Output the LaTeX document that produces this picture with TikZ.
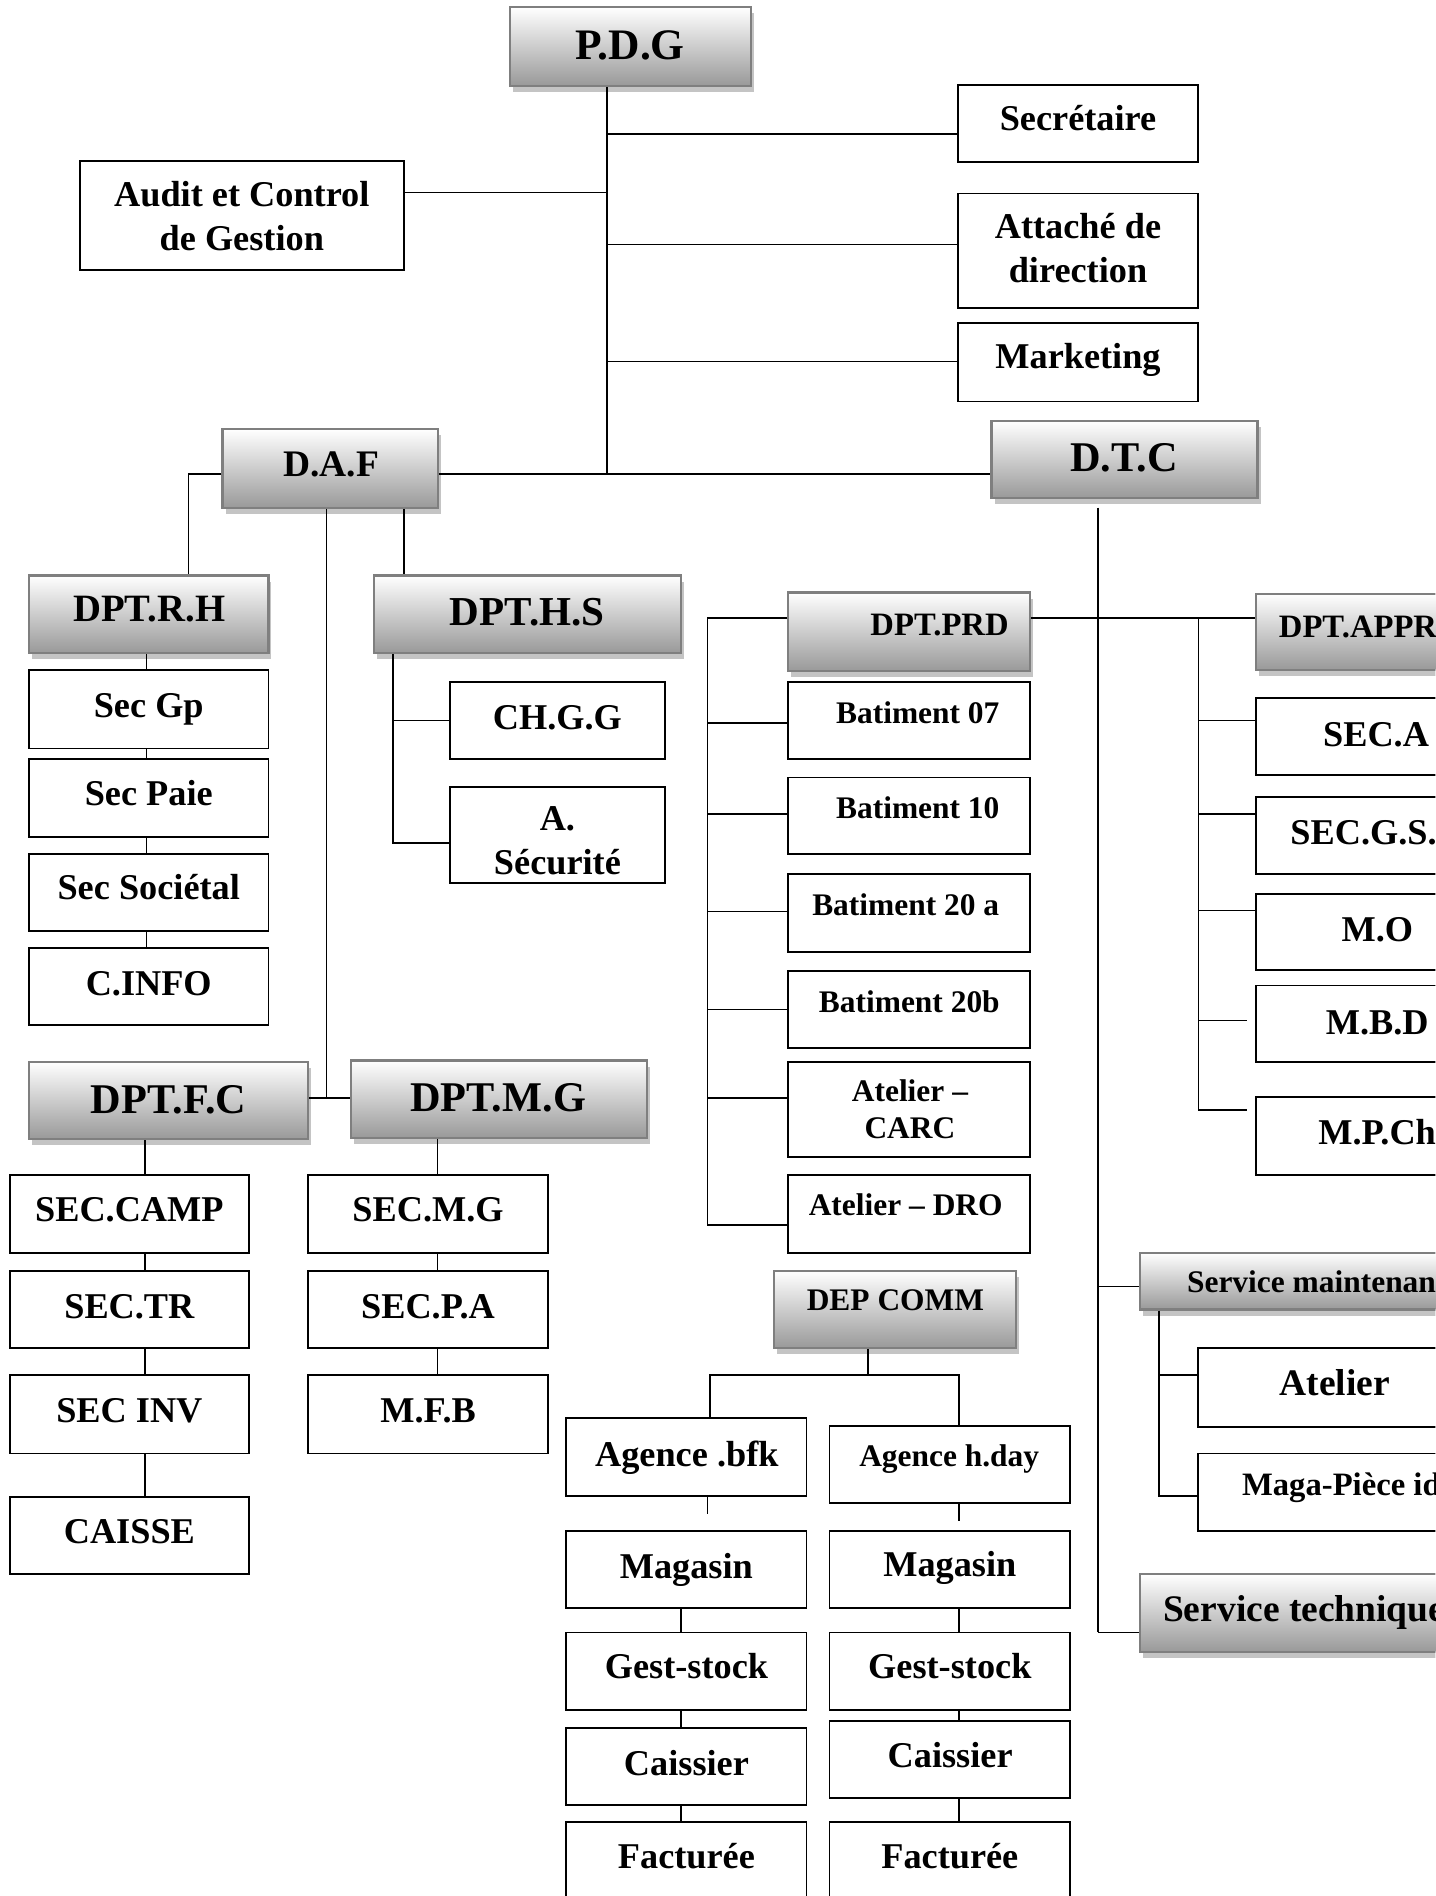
\documentclass[tikz,border=0pt]{standalone}
\usepackage{fontspec}
\setmainfont{Liberation Serif}
\usetikzlibrary{fit,shadows}
\definecolor{gbot}{HTML}{999999}
\definecolor{gedge}{HTML}{7F7F7F}
\definecolor{gshade}{HTML}{C4C4C4}
% box by its corners: style, name, x1, y1, x2, y2
\newcommand\bx[6]{\node[#1, fit={(#3,#4) (#5,#6)}] (#2) {};}
% label: style, name, x, y, text
\newcommand\tx[5]{\node[lab,#1] (#2) at (#3,#4) {#5};}
\begin{document}
\begin{tikzpicture}[x=1pt,y=-1pt,
  box/.style={rectangle, draw=black, line width=1.5pt, fill=white, inner sep=0pt},
  gbox/.style={rectangle, draw=gedge, line width=1.8pt, top color=white, bottom color=gbot, inner sep=0pt,
    drop shadow={shadow xshift=2.5pt, shadow yshift=-5pt, fill=gshade, opacity=1}},
  link/.style={draw=black, line width=1.2pt},
  lab/.style={inner sep=0pt, anchor=base, align=center, text=black},
  two/.style={anchor=center},
  f26/.style={font=\fontsize{26}{30.5}\selectfont\bfseries},
  f27/.style={font=\fontsize{27}{31}\selectfont\bfseries},
  f30/.style={font=\fontsize{30}{36}\selectfont\bfseries},
  f31/.style={font=\fontsize{31}{36}\selectfont\bfseries},
  f32/.style={font=\fontsize{32}{36}\selectfont\bfseries},
  f34/.style={font=\fontsize{34}{38}\selectfont\bfseries},
  f35/.style={font=\fontsize{35}{40}\selectfont\bfseries},
  f36/.style={font=\fontsize{36}{40}\selectfont\bfseries}]
\useasboundingbox (0,0) rectangle (1187,1568);
\clip (0,0) rectangle (1187,1568);

% ---------- direction ----------
\bx{gbox}{pdg}{422}{6}{621}{71}
\bx{box}{sec}{792}{70}{991}{134}
\bx{box}{audit}{66}{133}{334}{223}
\bx{box}{att}{792}{160}{991}{255}
\bx{box}{mkt}{792}{267}{991}{332}
\bx{gbox}{daf}{184}{355}{362}{420}
\bx{gbox}{dtc}{820}{348}{1040}{412}

% ---------- D.A.F branch ----------
\bx{gbox}{rh}{24}{476}{222}{540}
\bx{gbox}{hs}{309}{476}{563}{540}
\bx{box}{secgp}{24}{554}{222}{619}
\bx{box}{secpaie}{24}{628}{222}{692}
\bx{box}{secsoc}{24}{706}{222}{770}
\bx{box}{cinfo}{24}{784}{222}{848}
\bx{box}{chgg}{372}{564}{550}{628}
\bx{box}{asec}{372}{651}{550}{730}
\bx{gbox}{dfc}{24}{878}{255}{942}
\bx{gbox}{dmg}{290}{877}{535}{941}
\bx{box}{secamp}{8}{972}{206}{1036}
\bx{box}{sectr}{8}{1051}{206}{1115}
\bx{box}{secinv}{8}{1137}{206}{1202}
\bx{box}{caisse}{8}{1238}{206}{1302}
\bx{box}{secmg}{255}{972}{453}{1036}
\bx{box}{secpa}{255}{1051}{453}{1115}
\bx{box}{mfb}{255}{1137}{453}{1202}

% ---------- production ----------
\bx{gbox}{dprd}{652}{490}{852}{555}
\bx{box}{bat07}{652}{564}{852}{628}
\bx{box}{bat10}{652}{643}{852}{706}
\bx{box}{bat20a}{652}{723}{852}{787}
\bx{box}{bat20b}{652}{803}{852}{867}
\bx{box}{carc}{652}{878}{852}{957}
\bx{box}{dro}{652}{972}{852}{1036}

% ---------- commercial ----------
\bx{gbox}{depcomm}{640}{1051}{840}{1115}
\bx{box}{agbfk}{468}{1173}{667}{1237}
\bx{box}{aghday}{686}{1179}{885}{1243}
\bx{box}{mag1}{468}{1266}{667}{1330}
\bx{box}{mag2}{686}{1266}{885}{1330}
\bx{box}{gest1}{468}{1350}{667}{1414}
\bx{box}{gest2}{686}{1350}{885}{1414}
\bx{box}{cais1}{468}{1429}{667}{1493}
\bx{box}{cais2}{686}{1423}{885}{1487}
\bx{box}{fact1}{468}{1507}{667}{1590}
\bx{box}{fact2}{686}{1507}{885}{1590}

% ---------- supply and services ----------
\bx{gbox}{dappr}{1039}{491}{1250}{554}
\bx{box}{seca}{1039}{577}{1237}{641}
\bx{box}{secgs}{1039}{659}{1237}{723}
\bx{box}{mo}{1039}{739}{1237}{802}
\bx{box}{mbd}{1039}{815}{1237}{878}
\bx{box}{mpch}{1039}{907}{1237}{972}
\bx{gbox}{svm}{943}{1036}{1300}{1083}
\bx{box}{atel}{991}{1115}{1218}{1180}
\bx{box}{maga}{991}{1202}{1218}{1266}
\bx{gbox}{svt}{943}{1302}{1300}{1366}

% ---------- labels ----------
\tx{f36}{pdg-t}{521}{49}{P.D.G}
\tx{f30}{sec-t}{891.5}{108}{Secrétaire}
\tx{f30,two}{audit-t}{200}{178.6}{Audit et Control\\de Gestion}
\tx{f30,two}{att-t}{891.5}{205}{Attaché de\\direction}
\tx{f30}{mkt-t}{891.5}{305}{Marketing}
\tx{f31}{daf-t}{274}{394}{D.A.F}
\tx{f35}{dtc-t}{929.5}{390}{D.T.C}
\tx{f32}{rh-t}{123.5}{514}{DPT.R.H}
\tx{f34}{hs-t}{436}{517}{DPT.H.S}
\tx{f30}{secgp-t}{123}{593}{Sec Gp}
\tx{f30}{secpaie-t}{123}{666}{Sec Paie}
\tx{f30}{secsoc-t}{123}{744}{Sec Sociétal}
\tx{f30}{cinfo-t}{123}{823}{C.INFO}
\tx{f30}{chgg-t}{461}{603}{CH.G.G}
\tx{f30,two}{asec-t}{461}{695.5}{A.\\Sécurité}
\tx{f35}{dfc-t}{139.4}{921}{DPT.F.C}
\tx{f35}{dmg-t}{412}{919}{DPT.M.G}
\tx{f30}{secamp-t}{107}{1010}{SEC.CAMP}
\tx{f30}{sectr-t}{107}{1090}{SEC.TR}
\tx{f30}{secinv-t}{107}{1176}{SEC INV}
\tx{f30}{caisse-t}{107}{1276.5}{CAISSE}
\tx{f30}{secmg-t}{354}{1010}{SEC.M.G}
\tx{f30}{secpa-t}{354}{1090}{SEC.P.A}
\tx{f30}{mfb-t}{354}{1176}{M.F.B}
\tx{f27}{dprd-t}{777}{525.5}{DPT.PRD}
\tx{f26}{bat07-t}{759}{598}{Batiment 07}
\tx{f26}{bat10-t}{759}{677}{Batiment 10}
\tx{f26}{bat20a-t}{749}{757.5}{Batiment 20 a}
\tx{f26}{bat20b-t}{752}{837.5}{Batiment 20b}
\tx{f26,two}{carc-t}{752.5}{917}{Atelier –\\CARC}
\tx{f26}{dro-t}{749}{1005}{Atelier – DRO}
\tx{f26}{depcomm-t}{740.5}{1084}{DEP COMM}
\tx{f30}{agbfk-t}{568}{1213}{Agence .bfk}
\tx{f26}{aghday-t}{785}{1213}{Agence h.day}
\tx{f30}{mag1-t}{567.6}{1305}{Magasin}
\tx{f30}{mag2-t}{785.5}{1304}{Magasin}
\tx{f30}{gest1-t}{567.7}{1388}{Gest-stock}
\tx{f30}{gest2-t}{785.5}{1388}{Gest-stock}
\tx{f30}{cais1-t}{567.7}{1468}{Caissier}
\tx{f30}{cais2-t}{785.8}{1461.5}{Caissier}
\tx{f30}{fact1-t}{567.7}{1545}{Facturée}
\tx{f30}{fact2-t}{785.5}{1545}{Facturée}
\tx{f27,anchor=base west}{dappr-t}{1057.5}{527}{DPT.APPRO}
\tx{f30}{seca-t}{1138}{617}{SEC.A}
\tx{f30,anchor=base west}{secgs-t}{1067}{698}{SEC.G.S.}
\tx{f30}{mo-t}{1139}{779}{M.O}
\tx{f30}{mbd-t}{1139}{855.7}{M.B.D}
\tx{f30,anchor=base west}{mpch-t}{1090}{946.6}{M.P.Ch}
\tx{f26,anchor=base west}{svm-t}{981.5}{1069}{Service maintenance}
\tx{f31}{atel-t}{1104}{1154}{Atelier}
\tx{f27,anchor=base west}{maga-t}{1027}{1237}{Maga-Pièce id}
\tx{f31,anchor=base west}{svt-t}{961.7}{1341}{Service technique}

% ---------- connectors: direction ----------
\coordinate (jsec) at (502,111);
\coordinate (jaud) at (502,159);
\coordinate (jatt) at (502,202);
\coordinate (jmkt) at (502,299);
\coordinate (jmain) at (502,392);
\draw[link] (pdg.south -| jmain) -- (jmain);
\draw[link] (jsec) -- (jsec -| sec.west);
\draw[link] (jaud) -- (jaud -| audit.east);
\draw[link] (jatt) -- (jatt -| att.west);
\draw[link] (jmkt) -- (jmkt -| mkt.west);
\draw[link] (jmain -| daf.east) -- (jmain -| dtc.west);

% ---------- connectors: D.A.F ----------
\coordinate (rhc) at (156,392);
\draw[link] (jmain -| daf.west) -- (rhc) -- (rhc |- rh.north);
\coordinate (hsx) at (334,450);
\draw[link] (daf.south -| hsx) -- (hs.north -| hsx);
\coordinate (fcj) at (270,908);
\draw[link] (daf.south -| fcj) -- (fcj);
\draw[link] (fcj -| dfc.east) -- (fcj -| dmg.west);
\coordinate (rhx) at (121,600);
\foreach \a/\b in {rh/secgp,secgp/secpaie,secpaie/secsoc,secsoc/cinfo}
  \draw[link] (\a.south -| rhx) -- (\b.north -| rhx);
\coordinate (hsv) at (325,697);
\coordinate (hsc) at (325,596);
\draw[link] (hs.south -| hsv) -- (hsv) -- (hsv -| asec.west);
\draw[link] (hsc) -- (hsc -| chgg.west);
\coordinate (fcx) at (120,1000);
\foreach \a/\b in {dfc/secamp,secamp/sectr,sectr/secinv,secinv/caisse}
  \draw[link] (\a.south -| fcx) -- (\b.north -| fcx);
\coordinate (mgx) at (362,1000);
\foreach \a/\b in {dmg/secmg,secmg/secpa,secpa/mfb}
  \draw[link] (\a.south -| mgx) -- (\b.north -| mgx);

% ---------- connectors: D.T.C ----------
\coordinate (dtcx) at (908,1350);
\draw[link, shorten <=7pt] (dtc.south -| dtcx) -- (dtcx);
\draw[link] (dtcx) -- (dtcx -| svt.west);
\coordinate (prdj) at (908,511);
\draw[link] (prdj -| dprd.east) -- (prdj -| dappr.west);
\coordinate (svmj) at (908,1064);
\draw[link] (svmj) -- (svmj -| svm.west);

% production bracket
\coordinate (pb) at (585,511);
\coordinate (pbe) at (585,1013);
\draw[link] (pb -| dprd.west) -- (pb) -- (pbe) -- (pbe -| dro.west);
\foreach \n/\y in {bat07/598,bat10/673,bat20a/754,bat20b/835,carc/908}{
  \coordinate (s\n) at (585,\y);
  \draw[link] (s\n) -- (s\n -| \n.west);
}

% supply bracket
\coordinate (ab) at (991,511);
\coordinate (abe) at (991,918);
\draw[link] (ab) -- (abe);
\draw[link, shorten >=7pt] (abe) -- (abe -| mpch.west);
\foreach \n/\y in {seca/596,secgs/673,mo/753}{
  \coordinate (a\n) at (991,\y);
  \draw[link] (a\n) -- (a\n -| \n.west);
}
\coordinate (ambd) at (991,844);
\draw[link, shorten >=7pt] (ambd) -- (ambd -| mbd.west);

% maintenance
\coordinate (mv) at (958.6,1237);
\coordinate (mvc) at (958.6,1137);
\draw[link] (svm.south -| mv) -- (mv) -- (mv -| maga.west);
\draw[link] (mvc) -- (mvc -| atel.west);

% ---------- connectors: commercial ----------
\coordinate (cj) at (718,1137);
\coordinate (cl) at (587,1137);
\coordinate (cr) at (793,1137);
\draw[link] (depcomm.south -| cj) -- (cj);
\draw[link] (cl |- agbfk.north) -- (cl) -- (cr) -- (cr |- aghday.north);
\coordinate (lx1) at (585,1250);
\coordinate (lx2) at (563,1350);
\draw[link, shorten >=13pt] (agbfk.south -| lx1) -- (mag1.north -| lx1);
\foreach \a/\b in {mag1/gest1,gest1/cais1,cais1/fact1}
  \draw[link] (\a.south -| lx2) -- (\b.north -| lx2);
\coordinate (rx) at (793,1300);
\draw[link, shorten >=7pt] (aghday.south -| rx) -- (mag2.north -| rx);
\foreach \a/\b in {mag2/gest2,gest2/cais2,cais2/fact2}
  \draw[link] (\a.south -| rx) -- (\b.north -| rx);
\end{tikzpicture}
\end{document}
